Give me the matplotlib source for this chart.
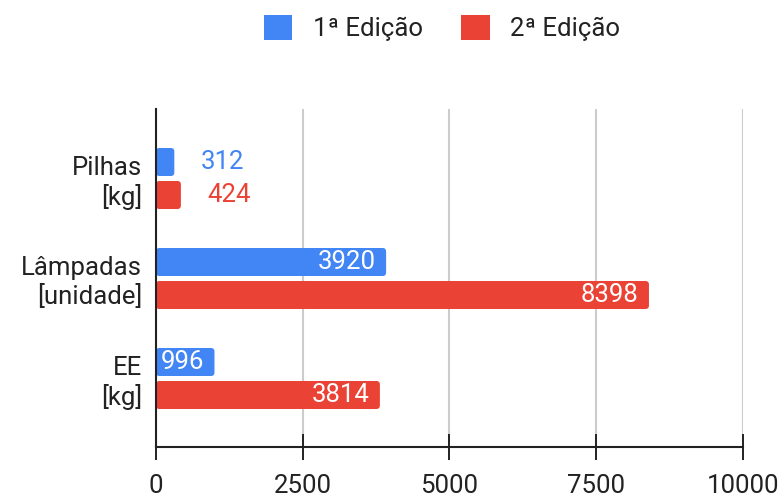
import matplotlib
matplotlib.use('Agg')
import matplotlib.pyplot as plt
from matplotlib.patches import FancyBboxPatch
import numpy as np

############# data ##############
categorias = ['Pilhas\n[kg]', 'Lâmpadas\n[unidade]', 'EE\n[kg]']
edicao1 = [312, 3920, 996]
edicao2 = [424, 8398, 3814]
series_nomes = ['1ª Edição', '2ª Edição']
xticks = [0, 2500, 5000, 7500, 10000]
#################################
azul = '#4285F4'
vermelho = '#EA4335'
texto = '#222222'

plt.rcParams['font.family'] = ['Roboto', 'DejaVu Sans']
fs = 18.5

fig = plt.figure(figsize=(7.84, 4.97), dpi=100)
# pixel box of the plot: x 156..743, y 109..447
ax = fig.add_axes([156/784., 1-447/497., (743-156)/784., (447-109)/497.])

y = np.arange(len(categorias))
h = 0.28
off = 0.165
b1 = ax.barh(y-off, edicao1, height=h, color=azul, label=series_nomes[0], zorder=3)
b2 = ax.barh(y+off, edicao2, height=h, color=vermelho, label=series_nomes[1], zorder=3)

ax.set_xlim(0, 10000)
ax.set_ylim(2.685, -0.695)

# rounded bars
pxx = (743-156)/10000.  # px per x unit
pxy = 100.              # px per y unit
for bars in (b1, b2):
    for r in bars:
        r.set_visible(False)
        p = FancyBboxPatch((r.get_x(), r.get_y()), r.get_width(), r.get_height(),
                           boxstyle='round,pad=0,rounding_size=%f' % (3.5/pxx),
                           mutation_aspect=pxx/pxy, facecolor=r.get_facecolor(),
                           edgecolor='none', zorder=3)
        ax.add_patch(p)

# value labels
for bars, vals, cor in ((b1, edicao1, azul), (b2, edicao2, vermelho)):
    for r, v in zip(bars, vals):
        yc = r.get_y() + r.get_height()/2.
        if v*pxx > 50:
            ax.annotate(str(v), (v, yc), xytext=(-7.5, 0), textcoords='offset points',
                        ha='right', va='center', color='white', fontsize=fs, zorder=4)
        else:
            ax.annotate(str(v), (v, yc), xytext=(19, 0), textcoords='offset points',
                        ha='left', va='center', color=cor, fontsize=fs, zorder=4)

ax.set_yticks(y)
ax.set_yticklabels(categorias, fontsize=fs, color=texto, ha='right', multialignment='right')
ax.tick_params(axis='y', length=0, pad=10)
ax.set_xticks(xticks)
ax.set_xticklabels([str(t) for t in xticks], fontsize=fs, color=texto)
ax.tick_params(axis='x', direction='inout', length=19, width=1.4, color='#222222', pad=10)

ax.grid(axis='x', color='#cccccc', linewidth=1.5, zorder=0)
for s in ('top', 'right'):
    ax.spines[s].set_visible(False)
for s in ('left', 'bottom'):
    ax.spines[s].set_color('#222222')
    ax.spines[s].set_linewidth(1.5)
    ax.spines[s].set_zorder(5)

leg = fig.legend(handles=[b1, b2], labels=series_nomes, loc='center', ncol=2,
                 bbox_to_anchor=(442/784., 1-28/497.), frameon=False, fontsize=fs,
                 handlelength=1.1, handleheight=1.1, handletextpad=0.8, columnspacing=1.5,
                 labelcolor=texto)
for hnd in leg.legend_handles:
    hnd.set_visible(True)

fig.savefig('out.png', dpi=100)
